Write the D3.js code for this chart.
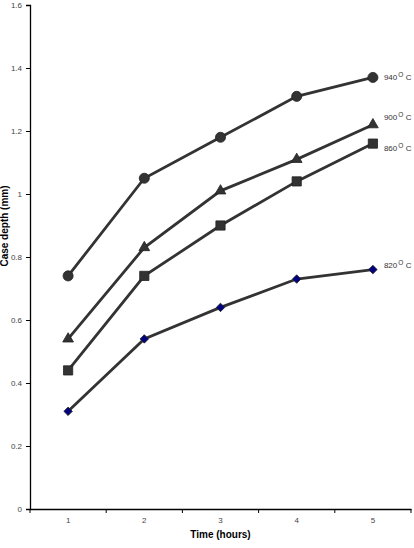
<!DOCTYPE html>
<html>
<head>
<meta charset="utf-8">
<script src="https://cdn.jsdelivr.net/npm/d3@7"></script>
<style>
	body { margin: 0; background: #fff; }
	text { font-family: "Liberation Sans", Arial, sans-serif; }
</style>
</head>
<body>
<svg id="chart" width="414" height="548"></svg>
<script>
// chart data
var hours = ["1", "2", "3", "4", "5"];
var temps = ["940", "900", "860", "820"];
var depth940 = [0.74, 1.05, 1.18, 1.31, 1.37];
var depth900 = [0.54, 0.83, 1.01, 1.11, 1.22];
var depth860 = [0.44, 0.74, 0.90, 1.04, 1.16];
var depth820 = [0.31, 0.54, 0.64, 0.73, 0.76];
var yTicks = [0, 0.2, 0.4, 0.6, 0.8, 1, 1.2, 1.4, 1.6];

var series = [depth940, depth900, depth860, depth820];
// diamond is a square turned 45 degrees
var symbols = [d3.symbolCircle, d3.symbolTriangle, d3.symbolSquare, d3.symbolSquare];
var symSize = [80, 50, 85, 36];
var symRot = [0, 0, 0, 45];
var fills = ["#333333", "#333333", "#333333", "#000080"];
// label nudges so they don't touch
var labelDy = [0, -8, 4, -5];

var svg = d3.select("#chart");
var mLeft = 30, mRight = 411, mTop = 5, mBottom = 509;

var x = d3.scaleBand().domain(hours).range([mLeft, mRight]);
var y = d3.scaleLinear().domain([0, 1.6]).range([mBottom, mTop]);

// y axis
var yAxis = svg.append("g")
	.attr("transform", "translate(" + mLeft + ",0)")
	.call(d3.axisLeft(y).tickValues(yTicks).tickSize(4).tickFormat(d3.format("")));
yAxis.select(".domain").attr("stroke", "#000").attr("stroke-width", 1.3);
yAxis.selectAll("line").attr("stroke", "#000");
yAxis.selectAll("text").attr("fill", "#444").attr("font-size", 8).attr("dx", -1);

// x axis, ticks on band edges
var xAxis = svg.append("g")
	.attr("transform", "translate(0," + mBottom + ")")
	.call(d3.axisBottom(x).tickSize(0).tickPadding(8));
xAxis.select(".domain").attr("stroke", "#000").attr("stroke-width", 1.3);
xAxis.selectAll("text").attr("fill", "#444").attr("font-size", 8);
var edges = hours.map(function(h){ return x(h); }).concat([mRight]);
svg.selectAll(".xtick").data(edges).enter()
	.append("line")
	.attr("x1", function(d){ return d; })
	.attr("x2", function(d){ return d; })
	.attr("y1", mBottom)
	.attr("y2", mBottom + 4)
	.attr("stroke", "#000");

// axis titles
svg.append("text")
	.attr("x", (mLeft + mRight) / 2)
	.attr("y", 538)
	.attr("text-anchor", "middle")
	.attr("font-size", 10)
	.attr("font-weight", "bold")
	.text("Time (hours)");
svg.append("text")
	.attr("transform", "translate(8,226) rotate(-90)")
	.attr("text-anchor", "middle")
	.attr("font-size", 10)
	.attr("font-weight", "bold")
	.text("Case depth (mm)");

var line = d3.line()
	.x(function(d, i){ return x(hours[i]) + x.bandwidth() / 2; })
	.y(function(d){ return y(d); });

for (var j = 0; j < series.length; j++){
	svg.append("path")
		.datum(series[j])
		.attr("d", line)
		.attr("fill", "none")
		.attr("stroke", "#333333")
		.attr("stroke-width", 2.8);

	svg.selectAll(".m" + j).data(series[j]).enter()
		.append("path")
		.attr("class", "m" + j)
		.attr("transform", function(d, i){
			return "translate(" + (x(hours[i]) + x.bandwidth() / 2) + "," + y(d) + ") rotate(" + symRot[j] + ")";
		})
		.attr("d", d3.symbol().type(symbols[j]).size(symSize[j]))
		.attr("fill", fills[j])
		.attr("stroke", "#222")
		.attr("stroke-width", 0.8);

	var last = series[j][series[j].length - 1];
	var lbl = svg.append("text")
		.attr("x", x(hours[hours.length - 1]) + x.bandwidth() / 2 + 11)
		.attr("y", y(last) + labelDy[j] + 3)
		.attr("font-size", 8)
		.attr("fill", "#333");
	lbl.append("tspan").text(temps[j]);
	lbl.append("tspan").attr("dy", -3).attr("font-size", 6.5).attr("dx", 1).text("O");
	lbl.append("tspan").attr("dy", 3).attr("dx", 2.5).text("C");
}
</script>
</body>
</html>
